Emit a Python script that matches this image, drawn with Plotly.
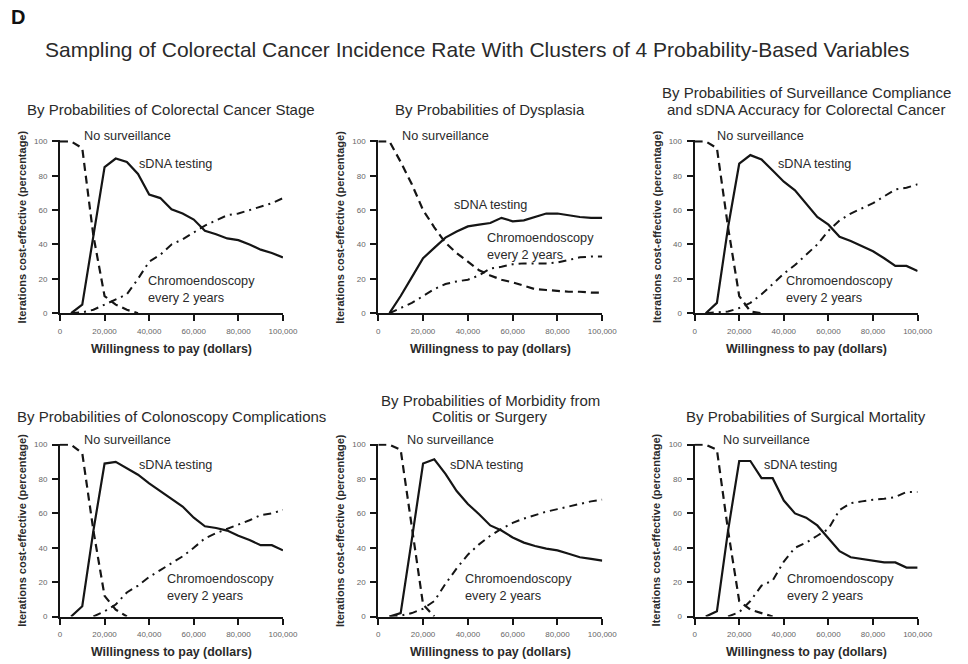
import plotly.graph_objects as go

W, H = 968, 664

wtp = [0, 5000, 10000, 15000, 20000, 25000, 30000, 35000, 40000, 45000, 50000,
       55000, 60000, 65000, 70000, 75000, 80000, 85000, 90000, 95000, 100000]

panel_titles = [
    ["By Probabilities of Colorectal Cancer Stage"],
    ["By Probabilities of Dysplasia"],
    ["By Probabilities of Surveillance Compliance", "and sDNA Accuracy for Colorectal Cancer"],
    ["By Probabilities of Colonoscopy Complications"],
    ["By Probabilities of Morbidity from", "Colitis or Surgery"],
    ["By Probabilities of Surgical Mortality"],
]

# Panel 1: Colorectal cancer stage
p1_none = [100, 100, 96, 45, 10, 5, 2, 0, 0, 0, 0, 0, 0, 0, 0, 0, 0, 0, 0, 0, 0]
p1_sdna = [0, 0, 5, 45, 85, 90, 88, 81, 69, 67, 60.5, 58, 54.5, 48, 46, 43.5, 42.5, 40, 37, 35, 32.5]
p1_chromo = [0, 0, 0.5, 2, 5, 8, 11, 20, 30, 34, 40, 43, 47, 51, 54, 57, 58, 60, 62, 64, 67]

# Panel 2: Dysplasia
p2_none = [100, 100, 88, 75, 60, 50, 41, 35, 30, 25, 22, 19.5, 18, 16, 14, 13.5, 13, 12.5, 12.5, 12, 12]
p2_sdna = [0, 0, 10, 21, 32, 38, 44, 47.5, 50.5, 51.5, 52.5, 55.5, 53.5, 54, 56, 58, 58, 57, 56, 55.5, 55.5]
p2_chromo = [0, 0, 3, 6, 10, 14, 17, 18.5, 19.5, 22, 26, 27, 28.5, 29, 29, 29, 29.5, 31, 32.5, 33, 33]

# Panel 3: Surveillance compliance and sDNA accuracy
p3_none = [100, 100, 96, 50, 10, 1, 0, 0, 0, 0, 0, 0, 0, 0, 0, 0, 0, 0, 0, 0, 0]
p3_sdna = [0, 0, 6, 50, 87, 92, 89.5, 83, 76.5, 71.5, 64, 56, 51.5, 44.5, 42, 39, 36, 32, 27.5, 27.5, 24.5]
p3_chromo = [0, 0, 0.5, 1, 3, 6, 11, 17, 23, 28, 34, 40, 48, 54, 58, 61, 64, 68, 72, 73, 75]

# Panel 4: Colonoscopy complications
p4_none = [100, 100, 95, 50, 12, 4, 0, 0, 0, 0, 0, 0, 0, 0, 0, 0, 0, 0, 0, 0, 0]
p4_sdna = [0, 0, 6, 50, 89, 90, 86, 82.5, 77.5, 73, 68.5, 64, 57.5, 52.5, 51.5, 50, 47, 44.5, 41.5, 41.5, 38.5]
p4_chromo = [0, 0, 0, 0, 3, 7, 14, 18, 23, 27, 31, 35, 40, 45.5, 48.5, 51, 53.5, 56, 59, 60, 62]

# Panel 5: Morbidity from colitis or surgery
p5_none = [100, 100, 97, 52, 7, 0, 0, 0, 0, 0, 0, 0, 0, 0, 0, 0, 0, 0, 0, 0, 0]
p5_sdna = [0, 0, 2, 45, 89, 91.5, 83, 73, 65.5, 59.5, 53, 50, 46, 43, 41, 39.5, 38.5, 36.5, 34.5, 33.5, 32.5]
p5_chromo = [0, 0, 0.5, 2, 4.5, 9, 19, 28, 36, 42, 47, 51, 54.5, 57, 59, 61, 62.5, 64, 65.5, 67, 68]

# Panel 6: Surgical mortality
p6_none = [100, 100, 97, 50, 9, 4, 2, 0, 0, 0, 0, 0, 0, 0, 0, 0, 0, 0, 0, 0, 0]
p6_sdna = [0, 0, 3, 50, 90.5, 90.5, 80.5, 80.5, 67.5, 60, 57.5, 53, 45.5, 38, 34.5, 33.5, 32.5, 31.5, 31.5, 28.5, 28.5]
p6_chromo = [0, 0, 0, 0, 2.5, 9, 18, 21, 32, 40, 43, 47, 51, 62, 66, 67, 68, 68.5, 69.5, 72.5, 72.5]

panels = [
    (p1_none, p1_sdna, p1_chromo),
    (p2_none, p2_sdna, p2_chromo),
    (p3_none, p3_sdna, p3_chromo),
    (p4_none, p4_sdna, p4_chromo),
    (p5_none, p5_sdna, p5_chromo),
    (p6_none, p6_sdna, p6_chromo),
]

# label anchor positions (data coordinates): none-x, (sdna x, y), (chromo x, y)
label_pos = [
    (10000, (34500, 87), (38500, 14)),
    (9500, (33000, 63), (47500, 39)),
    (9300, (36500, 87), (40000, 14)),
    (10000, (34500, 88), (47000, 17)),
    (12000, (31300, 88), (38000, 17)),
    (12000, (30000, 88), (40500, 17)),
]

x_ticks = [0, 20000, 40000, 60000, 80000, 100000]
y_ticks = [0, 20, 40, 60, 80, 100]

# layout geometry in pixels
col_px = [(59, 286), (383, 611), (705, 932)]
row_px = [(139, 314), (446, 621)]

FONT = "Liberation Sans, Arial, sans-serif"
TXT = "#2a2a2a"
LINE = "#151515"


def visible(vals):
    """Hide the stretches lying flat on the x axis (zero with zero neighbours)."""
    out = []
    n = len(vals)
    for k, v in enumerate(vals):
        left = vals[k - 1] if k > 0 else 0
        right = vals[k + 1] if k < n - 1 else 0
        out.append(None if (v == 0 and left == 0 and right == 0) else v)
    return out


fig = go.Figure()
layout = dict(
    width=W, height=H, margin=dict(l=0, r=0, t=0, b=0),
    paper_bgcolor="white", plot_bgcolor="white", showlegend=False,
    font=dict(family=FONT, color=TXT),
)
annotations = []


def px2x(p):
    return p / W


def px2y(p):
    return 1 - p / H


for i, (none, sdna, chromo) in enumerate(panels):
    r, c = divmod(i, 3)
    n = i + 1
    xa = "x" if n == 1 else f"x{n}"
    ya = "y" if n == 1 else f"y{n}"
    x0, x1 = col_px[c]
    y0, y1 = row_px[r]
    fig.add_trace(go.Scatter(x=wtp, y=visible(chromo), mode="lines", xaxis=xa, yaxis=ya,
                             connectgaps=False,
                             line=dict(color=LINE, width=2, dash="8px,5px,2px,5px")))
    fig.add_trace(go.Scatter(x=wtp, y=visible(none), mode="lines", xaxis=xa, yaxis=ya,
                             connectgaps=False,
                             line=dict(color=LINE, width=2.2, dash="8px,5px")))
    fig.add_trace(go.Scatter(x=wtp, y=visible(sdna), mode="lines", xaxis=xa, yaxis=ya,
                             connectgaps=False,
                             line=dict(color=LINE, width=2.2)))
    axis_common = dict(showline=True, linewidth=2, linecolor=LINE, showgrid=False,
                       zeroline=False, ticks="outside", ticklen=6, tickwidth=1.5,
                       tickcolor=LINE, tickfont=dict(size=8, color="#666", family=FONT))
    layout["xaxis" if n == 1 else f"xaxis{n}"] = dict(
        axis_common, domain=[px2x(x0), px2x(x1)], anchor=ya, range=[0, 100000],
        tickvals=x_ticks, tickformat=",d", ticklabelstandoff=3)
    layout["yaxis" if n == 1 else f"yaxis{n}"] = dict(
        axis_common, domain=[px2y(y1), px2y(y0)], anchor=xa, range=[0, 100.6],
        tickvals=y_ticks, ticklabelstandoff=3)

    # subplot title (one annotation per line)
    cx = (x0 + x1) / 2
    lines = panel_titles[i]
    if r == 0:
        ys = [108] if len(lines) == 1 else [91, 108]
    else:
        ys = [419] if len(lines) == 1 else [402, 419]
    for line_text, ty in zip(lines, ys):
        annotations.append(dict(text=line_text, xref="paper", yref="paper",
                                x=px2x(cx), y=px2y(ty), xanchor="center", yanchor="middle",
                                showarrow=False, font=dict(size=15, color=TXT)))
    # y-axis title
    annotations.append(dict(text="<b>Iterations cost-effective (percentage)</b>",
                            xref="paper", yref="paper", x=px2x(x0 - 39),
                            y=px2y((y0 + y1) / 2), textangle=-90, xanchor="center",
                            yanchor="middle", showarrow=False,
                            font=dict(size=11, color=TXT)))
    # x-axis title
    annotations.append(dict(text="<b>Willingness to pay (dollars)</b>",
                            xref="paper", yref="paper", x=px2x(cx),
                            y=px2y(y1 + 36), xanchor="center", yanchor="middle",
                            showarrow=False, font=dict(size=12.4, color=TXT)))
    # curve labels
    nx, (sx, sy), (chx, chy) = label_pos[i]
    annotations.append(dict(text="No surveillance", xref=xa, yref=ya, x=nx, y=100,
                            xanchor="left", yanchor="middle", yshift=5,
                            showarrow=False, font=dict(size=12.7, color=TXT)))
    for (lx, ly, lt) in [(sx, sy, "sDNA testing"),
                         (chx, chy, "Chromoendoscopy<br>every 2 years")]:
        annotations.append(dict(text=lt, xref=xa, yref=ya, x=lx, y=ly,
                                xanchor="left", yanchor="middle", align="left",
                                showarrow=False, font=dict(size=12.7, color=TXT)))

annotations.append(dict(text="<b>D</b>", xref="paper", yref="paper", x=px2x(7),
                        y=px2y(14), xanchor="left", yanchor="middle", showarrow=False,
                        font=dict(size=20, color="#111")))
annotations.append(dict(
    text="Sampling of Colorectal Cancer Incidence Rate With Clusters of 4 Probability-Based Variables",
    xref="paper", yref="paper", x=px2x(484), y=px2y(47), xanchor="center",
    yanchor="middle", showarrow=False, font=dict(size=21, color=TXT)))

layout["annotations"] = annotations
fig.update_layout(**layout)
fig.write_html("out.html")
